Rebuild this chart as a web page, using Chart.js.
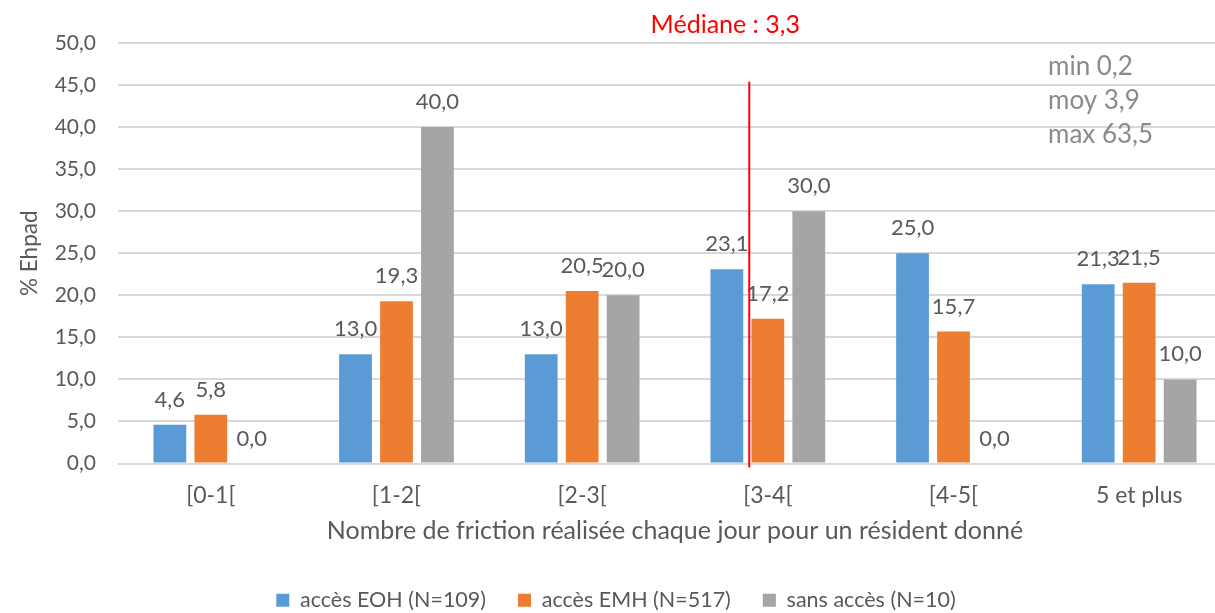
<!DOCTYPE html>
<html>
<head>
<meta charset="utf-8">
<script src="https://cdn.jsdelivr.net/npm/chart.js@4"></script>
<style>
  html, body { margin: 0; padding: 0; background: #fff; overflow: hidden; }
  #wrap { width: 1250px; height: 613px; }
</style>
</head>
<body>
<div id="wrap"><canvas id="friction-chart" width="1250" height="613"></canvas></div>
<script>
const categories = ["[0-1[", "[1-2[", "[2-3[", "[3-4[", "[4-5[", "5 et plus"];
const accesEOH = [4.6, 13.0, 13.0, 23.1, 25.0, 21.3];
const accesEMH = [5.8, 19.3, 20.5, 17.2, 15.7, 21.5];
const sansAcces = [0.0, 40.0, 20.0, 30.0, 0.0, 10.0];
const seriesNames = ["accès EOH (N=109)", "accès EMH (N=517)", "sans accès (N=10)"];
const seriesColors = ["#5B9BD5", "#ED7D31", "#A5A5A5"];
const yMin = 0;
const yMax = 50;
const yStep = 5;
const medianLabel = "Médiane : 3,3";
const medianIndex = 2.9; // where the line sits on the category axis
const medianTop = 45.4;
const statsLines = ["min 0,2", "moy 3,9", "max 63,5"];

const FONT = "Lato";
const TEXT = "#595959";

const fmt = (v) => v.toFixed(1).replace(".", ",");

// value labels above each bar
const barLabels = {
  id: "barLabels",
  afterDatasetsDraw(chart) {
    const ctx = chart.ctx;
    ctx.save();
    ctx.font = "22px " + FONT;
    ctx.fillStyle = TEXT;
    ctx.textAlign = "center";
    ctx.textBaseline = "middle";
    chart.data.datasets.forEach((ds, i) => {
      chart.getDatasetMeta(i).data.forEach((bar, j) => {
        ctx.fillText(fmt(ds.data[j]), bar.x, bar.y - 25);
      });
    });
    ctx.restore();
  },
};

// median line + text boxes
const annotations = {
  id: "annotations",
  afterDatasetsDraw(chart) {
    const { ctx, chartArea } = chart;
    const x = chart.scales.x.getPixelForValue(medianIndex);
    const yTop = chart.scales.y.getPixelForValue(medianTop);
    ctx.save();
    ctx.strokeStyle = "#FF0000";
    ctx.lineWidth = 2;
    ctx.beginPath();
    ctx.moveTo(x, yTop);
    ctx.lineTo(x, chartArea.bottom + 4);
    ctx.stroke();

    ctx.fillStyle = "#FF0000";
    ctx.font = "25px " + FONT;
    ctx.textAlign = "center";
    ctx.textBaseline = "middle";
    ctx.fillText(medianLabel, x - 24, 25);

    ctx.fillStyle = "#8A8A8A";
    ctx.font = "26px " + FONT;
    ctx.textAlign = "left";
    statsLines.forEach((t, i) => {
      ctx.fillText(t, chartArea.right - 184, 67 + i * 34);
    });
    ctx.restore();
  },
};

const chartData = {
  labels: categories,
  datasets: [
    { label: seriesNames[0], data: accesEOH, backgroundColor: seriesColors[0] },
    { label: seriesNames[1], data: accesEMH, backgroundColor: seriesColors[1] },
    { label: seriesNames[2], data: sansAcces, backgroundColor: seriesColors[2] },
  ],
};

new Chart(document.getElementById("friction-chart"), {
  type: "bar",
  data: chartData,
  plugins: [barLabels, annotations],
  options: {
    responsive: false,
    animation: false,
    devicePixelRatio: 1,
    categoryPercentage: 0.662,
    barPercentage: 0.8,
    layout: { padding: { top: 43, right: 18, bottom: -8, left: 0 } },
    plugins: {
      tooltip: { enabled: false },
      legend: {
        position: "bottom",
        labels: {
          boxWidth: 13,
          boxHeight: 13,
          padding: 32,
          color: TEXT,
          font: { family: FONT, size: 21.5 },
        },
      },
    },
    scales: {
      x: {
        grid: { display: false },
        border: { display: false },
        ticks: { color: TEXT, font: { family: FONT, size: 23 }, padding: 10, maxRotation: 0 },
        title: {
          display: true,
          text: "Nombre de friction réalisée chaque jour pour un résident donné",
          color: TEXT,
          font: { family: FONT, size: 25 },
          padding: { top: 0, bottom: 12 },
        },
        afterFit(scale) { scale.height = 94; },
      },
      y: {
        min: yMin,
        max: yMax,
        grid: { color: "#D9D9D9", lineWidth: 2, drawTicks: false },
        border: { display: false },
        ticks: {
          stepSize: yStep,
          color: TEXT,
          font: { family: FONT, size: 21 },
          padding: 22,
          callback: (v) => fmt(v),
        },
        title: {
          display: true,
          text: "% Ehpad",
          color: TEXT,
          font: { family: FONT, size: 22.5 },
          padding: { top: 16, bottom: 0 },
        },
        afterFit(scale) { scale.width = 118; },
      },
    },
  },
});
</script>
</body>
</html>
